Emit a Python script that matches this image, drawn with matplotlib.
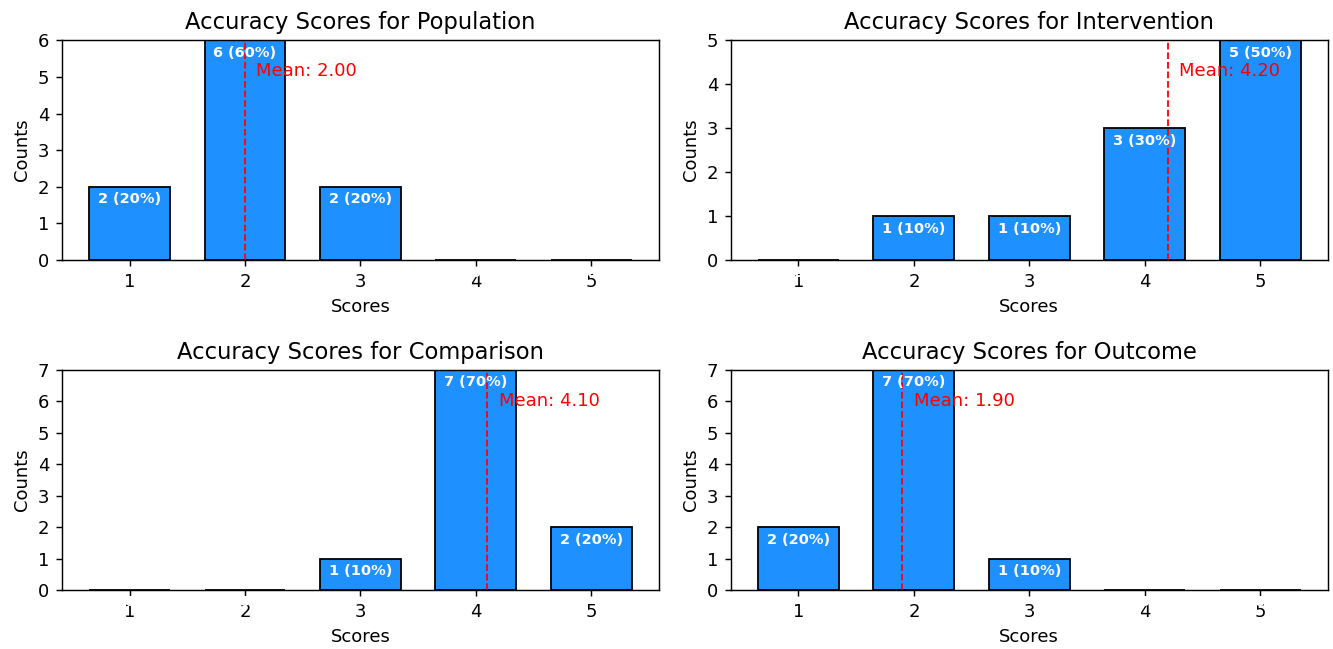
import matplotlib
matplotlib.use("Agg")
import matplotlib.pyplot as plt
from matplotlib.ticker import MultipleLocator
import numpy as np

# Score counts (10 ratings per category)
scores = [1, 2, 3, 4, 5]
categories = ["Population", "Intervention", "Comparison", "Outcome"]
population = [2, 6, 2, 0, 0]
intervention = [0, 1, 1, 3, 5]
comparison = [0, 0, 1, 7, 2]
outcome = [2, 7, 1, 0, 0]
all_counts = [population, intervention, comparison, outcome]

DPI = 130
fig, axes = plt.subplots(2, 2, figsize=(1333 / DPI, 649 / DPI), dpi=DPI)
fig.subplots_adjust(left=0.0465, right=0.996, top=0.938, bottom=0.091,
                    wspace=0.121, hspace=0.5)

for ax, name, counts in zip(axes.flat, categories, all_counts):
    counts = np.array(counts)
    total = counts.sum()
    bars = ax.bar(scores, counts, width=0.7, color="dodgerblue", edgecolor="black")

    # count + percentage label inside the top of each bar (zeros too, in white)
    for bar, c in zip(bars, counts):
        ax.annotate(f"{c} ({c / total * 100:.0f}%)",
                    xy=(bar.get_x() + bar.get_width() / 2, c),
                    xytext=(0, -3), textcoords="offset points",
                    ha="center", va="top", color="white",
                    fontsize=8, fontweight="bold", annotation_clip=False)

    mean = np.dot(scores, counts) / total
    ymax = counts.max()
    ax.axvline(mean, color="red", linestyle="--", linewidth=1)
    ax.text(mean + 0.1, ymax * 0.86, f"Mean: {mean:.2f}", color="red",
            fontsize=10, va="center", ha="left")

    ax.set_ylim(0, ymax)
    ax.yaxis.set_major_locator(MultipleLocator(1))
    ax.set_xticks(scores)
    ax.set_title(f"Accuracy Scores for {name}", fontsize=12.5)
    ax.set_xlabel("Scores")
    ax.set_ylabel("Counts")

fig.savefig("out.png", dpi=DPI)
